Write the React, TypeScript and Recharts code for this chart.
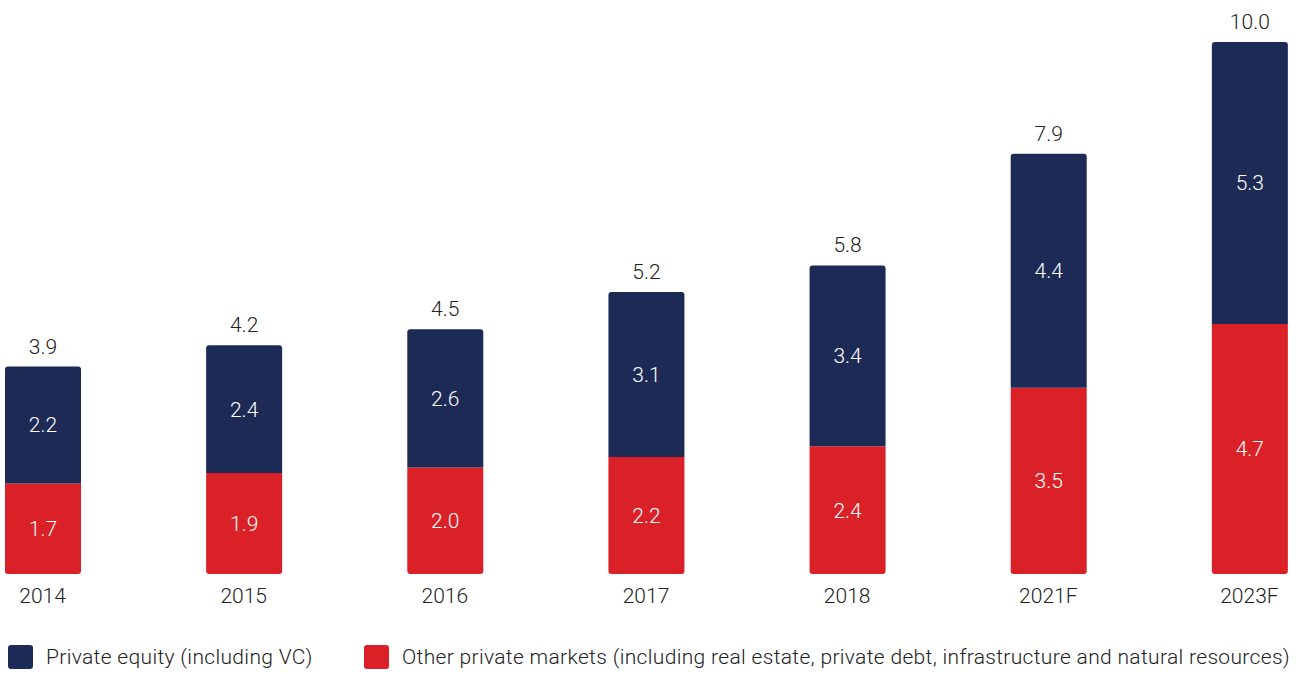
import { BarChart, Bar, XAxis, YAxis, LabelList } from 'recharts'

const years = ['2014', '2015', '2016', '2017', '2018', '2021F', '2023F']
const otherMarkets = [1.7, 1.9, 2.0, 2.2, 2.4, 3.5, 4.7]
const privateEquity = [2.2, 2.4, 2.6, 3.1, 3.4, 4.4, 5.3]
const totals = [3.9, 4.2, 4.5, 5.2, 5.8, 7.9, 10.0]

const NAVY = '#1d2a55'
const RED = '#da2128'
const FONT = 'Roboto, "Noto Sans", sans-serif'
const FS = 21

const data = years.map((year, i) => ({
  year,
  other: otherMarkets[i],
  pe: privateEquity[i],
  total: totals[i],
}))

const fmt = (v: unknown) => Number(v).toFixed(1)

function LegendItem({ color, label }: { color: string; label: string }) {
  return (
    <div style={{ display: 'flex', alignItems: 'center' }}>
      <span
        style={{
          width: 25,
          height: 24,
          borderRadius: 3,
          background: color,
          marginRight: 13,
          display: 'inline-block',
        }}
      />
      <span>{label}</span>
    </div>
  )
}

export default function App() {
  return (
    <div
      style={{
        position: 'absolute',
        left: 0,
        top: 0,
        width: 1307,
        height: 673,
        overflow: 'hidden',
        background: '#fff',
        fontFamily: FONT,
        fontWeight: 300,
        color: '#222',
      }}
    >
      <div style={{ position: 'absolute', left: -58, top: 0 }}>
        <BarChart
          width={1408}
          height={620}
          data={data}
          margin={{ top: 42, right: 0, left: 0, bottom: 0 }}
          barSize={76}
        >
          <XAxis
            dataKey="year"
            height={46}
            tickLine={false}
            axisLine={false}
            tickSize={0}
            tickMargin={14}
            tick={{ fontSize: FS, fill: '#222', fontFamily: FONT, fontWeight: 300 }}
          />
          <YAxis hide domain={[0, 10]} />
          <Bar dataKey="other" stackId="a" fill={RED} radius={[0, 0, 3, 3]} isAnimationActive={false}>
            <LabelList
              dataKey="other"
              position="center"
              formatter={fmt}
              style={{ fontSize: FS, fill: '#fff', fontFamily: FONT, fontWeight: 300 }}
            />
          </Bar>
          <Bar dataKey="pe" stackId="a" fill={NAVY} radius={[3, 3, 0, 0]} isAnimationActive={false}>
            <LabelList
              dataKey="pe"
              position="center"
              formatter={fmt}
              style={{ fontSize: FS, fill: '#fff', fontFamily: FONT, fontWeight: 300 }}
            />
            <LabelList
              dataKey="total"
              position="top"
              offset={13}
              formatter={fmt}
              style={{ fontSize: FS, fill: '#222', fontFamily: FONT, fontWeight: 300 }}
            />
          </Bar>
        </BarChart>
      </div>
      <div
        style={{
          position: 'absolute',
          left: 8,
          top: 645,
          display: 'flex',
          fontSize: FS,
          lineHeight: '24px',
          letterSpacing: 0.33,
        }}
      >
        <div style={{ width: 356 }}>
          <LegendItem color={NAVY} label="Private equity (including VC)" />
        </div>
        <LegendItem
          color={RED}
          label="Other private markets (including real estate, private debt, infrastructure and natural resources)"
        />
      </div>
    </div>
  )
}
